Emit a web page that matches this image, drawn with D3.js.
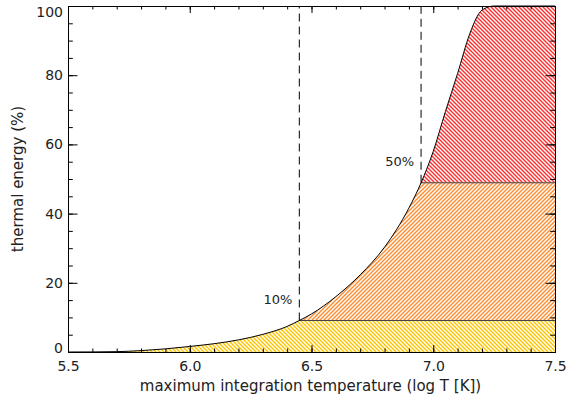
<!DOCTYPE html>
<html>
<head>
<meta charset="utf-8">
<script src="https://cdn.jsdelivr.net/npm/d3@7"></script>
<style>
  body { margin: 0; background: #fff; }
  svg { display: block; font-family: "DejaVu Sans", sans-serif; }
</style>
</head>
<body>
<svg id="chart" width="566" height="400"></svg>
<script>
// Cumulative thermal energy versus the maximum integration temperature
const logT   = [5.5, 5.6, 5.7, 5.8, 5.9, 6.0, 6.1, 6.2, 6.3, 6.4, 6.45, 6.5, 6.6, 6.7, 6.8, 6.9, 6.95, 7.0, 7.05, 7.1, 7.15, 7.2, 7.25, 7.3, 7.4, 7.5];
const energy = [0.0, 0.02, 0.1, 0.4, 0.9, 1.6, 2.4, 3.5, 5.1, 7.4, 9.1, 11.0, 16.0, 22.3, 30.3, 41.6, 48.9, 58.0, 69.5, 80.5, 92.0, 98.8, 100, 100, 100, 100];

// Temperatures where the 10% and 50% marks are placed
const markTemps  = [6.45, 6.95];
const markLabels = ["10%", "50%"];

const xTicks = [5.5, 6.0, 6.5, 7.0, 7.5];
const yTicks = [0, 20, 40, 60, 80, 100];

const bandColors = ["#ffc400", "#ff8a2b", "#ff2e2e"];
const bandHatch  = ["back", "fwd", "back"];

const svg = d3.select("#chart");
const plot = { left: 68, right: 555, top: 6, bottom: 352 };

const x = d3.scaleLinear().domain([5.5, 7.5]).range([plot.left, plot.right]);
const y = d3.scaleLinear().domain([0, 100]).range([plot.bottom, plot.top]);

const pts = logT.map((t, i) => ({ t, v: energy[i] }));
const levelAt = t => {
  const i = d3.bisectLeft(logT, t);
  if (logT[i] === t) return energy[i];
  const a = pts[i - 1], b = pts[i];
  return a.v + (b.v - a.v) * (t - a.t) / (b.t - a.t);
};
const levels = markTemps.map(levelAt);
const bands = [[0, levels[0]], [levels[0], levels[1]], [levels[1], 100]];

// Hatch patterns
const defs = svg.append("defs");
bandColors.forEach((c, i) => {
  const p = defs.append("pattern")
    .attr("id", "hatch" + i)
    .attr("patternUnits", "userSpaceOnUse")
    .attr("width", 4).attr("height", 4);
  const d = bandHatch[i] === "fwd"
    ? "M-1,1 l2,-2 M0,4 l4,-4 M3,5 l2,-2"
    : "M-1,3 l2,2 M0,0 l4,4 M3,-1 l2,2";
  p.append("path").attr("d", d)
    .attr("stroke", c).attr("stroke-width", 1.4).attr("fill", "none");
});

// Region under the curve
const under = d3.area()
  .x(d => x(d.t)).y0(y(0)).y1(d => y(d.v))
  .curve(d3.curveMonotoneX);
defs.append("clipPath").attr("id", "underCurve")
  .append("path").attr("d", under(pts));

const fills = svg.append("g").attr("clip-path", "url(#underCurve)");
bands.forEach((b, i) => {
  fills.append("rect")
    .attr("x", x(5.5)).attr("width", x(7.5) - x(5.5))
    .attr("y", y(b[1])).attr("height", y(b[0]) - y(b[1]))
    .attr("fill", `url(#hatch${i})`);
});

// Horizontal boundaries between the bands
svg.append("g").selectAll("line").data(markTemps).join("line")
  .attr("x1", d => x(d)).attr("x2", x(7.5))
  .attr("y1", (d, i) => y(levels[i])).attr("y2", (d, i) => y(levels[i]))
  .attr("stroke", "#444").attr("stroke-width", 1);

// Curve
const line = d3.line().x(d => x(d.t)).y(d => y(d.v)).curve(d3.curveMonotoneX);
svg.append("path").attr("d", line(pts))
  .attr("fill", "none").attr("stroke", "#000").attr("stroke-width", 1);

// Dashed markers and their labels
const marks = svg.append("g");
marks.selectAll("line").data(markTemps).join("line")
  .attr("x1", d => x(d)).attr("x2", d => x(d))
  .attr("y1", (d, i) => y(levels[i])).attr("y2", y(100))
  .attr("stroke", "#000").attr("stroke-width", 1)
  .attr("stroke-dasharray", "8,5");
marks.selectAll("text").data(markTemps).join("text")
  .attr("x", d => x(d) - 7)
  .attr("y", (d, i) => y(levels[i]) - 17)
  .attr("text-anchor", "end")
  .attr("font-size", 13).attr("fill", "#222")
  .text((d, i) => markLabels[i]);

// Axes with inward ticks on all four sides
const xMinor = d3.range(55, 76).map(v => v / 10);
const yMinor = d3.range(0, 101, 5);

const ax = svg.append("g").attr("class", "axes");

ax.append("g").attr("transform", `translate(0,${plot.bottom})`)
  .call(d3.axisBottom(x).tickValues(xMinor).tickSize(-3.5).tickFormat(""));
ax.append("g").attr("transform", `translate(0,${plot.bottom})`)
  .call(d3.axisBottom(x).tickValues(xTicks).tickSize(-7).tickPadding(9).tickFormat(d3.format(".1f")));
ax.append("g").attr("transform", `translate(0,${plot.top})`)
  .call(d3.axisTop(x).tickValues(xMinor).tickSize(-3.5).tickFormat(""));
ax.append("g").attr("transform", `translate(0,${plot.top})`)
  .call(d3.axisTop(x).tickValues(xTicks).tickSize(-7).tickFormat(""));

ax.append("g").attr("transform", `translate(${plot.left},0)`)
  .call(d3.axisLeft(y).tickValues(yMinor).tickSize(-4.8).tickFormat(""));
const yAxisG = ax.append("g").attr("transform", `translate(${plot.left},0)`)
  .call(d3.axisLeft(y).tickValues(yTicks).tickSize(-9.5).tickPadding(5).tickFormat(d3.format("d")));
ax.append("g").attr("transform", `translate(${plot.right},0)`)
  .call(d3.axisRight(y).tickValues(yMinor).tickSize(-4.8).tickFormat(""));
ax.append("g").attr("transform", `translate(${plot.right},0)`)
  .call(d3.axisRight(y).tickValues(yTicks).tickSize(-9.5).tickFormat(""));

ax.selectAll(".domain").attr("stroke", "#000").attr("stroke-width", 1);
ax.selectAll(".tick line").attr("stroke", "#000").attr("stroke-width", 1);
ax.selectAll(".tick text")
  .attr("font-family", "DejaVu Sans, sans-serif")
  .attr("font-size", 14).attr("fill", "#222");
// keep the end labels inside the frame's height
yAxisG.selectAll(".tick text").filter(d => d === 100).attr("dy", "0.75em");
yAxisG.selectAll(".tick text").filter(d => d === 0).attr("dy", "0.05em");

// Axis titles
svg.append("text")
  .attr("x", (plot.left + plot.right) / 2 - 1).attr("y", 391)
  .attr("text-anchor", "middle").attr("font-size", 15).attr("fill", "#222")
  .text("maximum integration temperature (log T [K])");
svg.append("text")
  .attr("transform", `translate(23,${(plot.top + plot.bottom) / 2}) rotate(-90)`)
  .attr("text-anchor", "middle").attr("font-size", 15).attr("fill", "#222")
  .text("thermal energy (%)");
</script>
</body>
</html>
